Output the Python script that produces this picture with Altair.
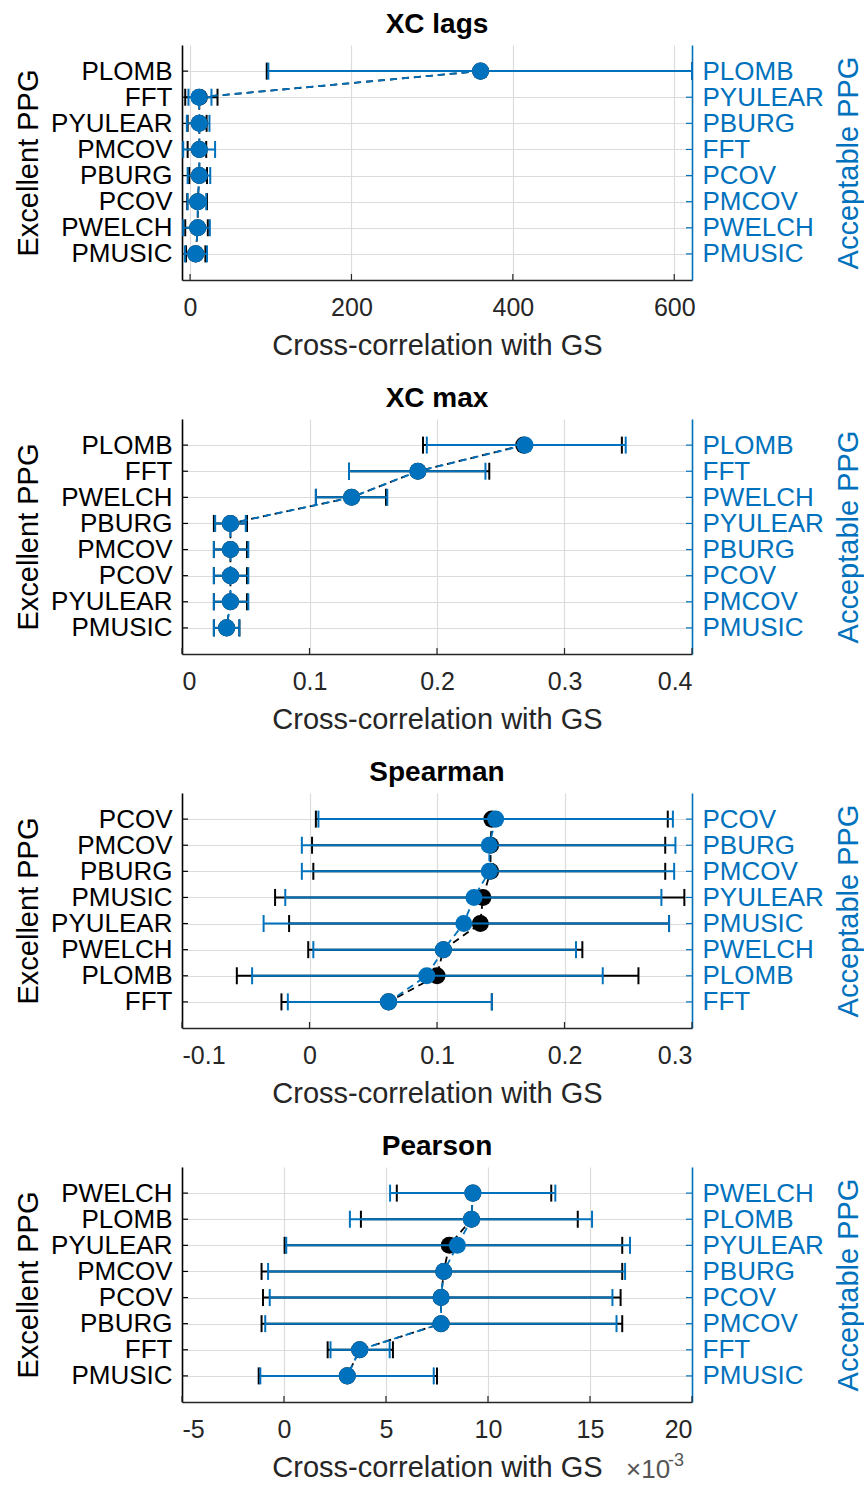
import altair as alt
import pandas as pd

ROWS = [1, 2, 3, 4, 5, 6, 7, 8]
X_TITLE = "Cross-correlation with GS"
LEFT_TITLE = "Excellent PPG"
RIGHT_TITLE = "Acceptable PPG"

# ---------- Panel 1: XC lags ----------
lags_exc_labels = ["PLOMB", "FFT", "PYULEAR", "PMCOV", "PBURG", "PCOV", "PWELCH", "PMUSIC"]
lags_acc_labels = ["PLOMB", "PYULEAR", "PBURG", "FFT", "PCOV", "PMCOV", "PWELCH", "PMUSIC"]
lags_exc_mean = [360, 11.5, 11.5, 11.5, 11.5, 9.5, 9.5, 7]
lags_exc_lo = [95, -6, -3, -3, -1, -3.5, -6, -5]
lags_exc_hi = [622, 34, 20.5, 20, 21, 21, 22, 19]
lags_acc_mean = [360, 11, 11.5, 11.5, 11.5, 9.5, 9.5, 7]
lags_acc_lo = [97, -2, -4, -8.5, -3, -3, -8.5, -6.5]
lags_acc_hi = [622, 26.5, 24, 31, 25, 20, 24.5, 21]
lags_ticks = [0, 200, 400, 600]
lags_domain = [-10, 622]

# ---------- Panel 2: XC max ----------
max_exc_labels = ["PLOMB", "FFT", "PWELCH", "PBURG", "PMCOV", "PCOV", "PYULEAR", "PMUSIC"]
max_acc_labels = ["PLOMB", "FFT", "PWELCH", "PYULEAR", "PBURG", "PCOV", "PMCOV", "PMUSIC"]
max_exc_mean = [0.268, 0.185, 0.133, 0.038, 0.038, 0.038, 0.038, 0.035]
max_exc_lo = [0.189, 0.131, 0.105, 0.025, 0.025, 0.025, 0.025, 0.025]
max_exc_hi = [0.345, 0.241, 0.160, 0.051, 0.051, 0.051, 0.051, 0.045]
max_acc_mean = [0.269, 0.185, 0.133, 0.038, 0.038, 0.038, 0.038, 0.035]
max_acc_lo = [0.192, 0.131, 0.105, 0.026, 0.025, 0.025, 0.025, 0.025]
max_acc_hi = [0.348, 0.238, 0.161, 0.050, 0.052, 0.052, 0.052, 0.045]
max_ticks = [0, 0.1, 0.2, 0.3, 0.4]
max_domain = [0, 0.4]

# ---------- Panel 3: Spearman ----------
sp_exc_labels = ["PCOV", "PMCOV", "PBURG", "PMUSIC", "PYULEAR", "PWELCH", "PLOMB", "FFT"]
sp_acc_labels = ["PCOV", "PBURG", "PMCOV", "PYULEAR", "PMUSIC", "PWELCH", "PLOMB", "FFT"]
sp_exc_mean = [0.143, 0.142, 0.142, 0.136, 0.134, 0.105, 0.100, 0.062]
sp_exc_lo = [0.005, 0.002, 0.003, -0.027, -0.016, -0.001, -0.057, -0.022]
sp_exc_hi = [0.281, 0.279, 0.279, 0.294, 0.282, 0.214, 0.258, 0.143]
sp_acc_mean = [0.146, 0.141, 0.141, 0.129, 0.121, 0.105, 0.092, 0.062]
sp_acc_lo = [0.007, -0.006, -0.006, -0.019, -0.036, 0.003, -0.045, -0.017]
sp_acc_hi = [0.285, 0.287, 0.286, 0.276, 0.282, 0.209, 0.230, 0.143]
sp_ticks = [-0.1, 0, 0.1, 0.2, 0.3]
sp_domain = [-0.1, 0.3]

# ---------- Panel 4: Pearson (x 1e-3) ----------
pe_exc_labels = ["PWELCH", "PLOMB", "PYULEAR", "PMCOV", "PCOV", "PBURG", "FFT", "PMUSIC"]
pe_acc_labels = ["PWELCH", "PLOMB", "PYULEAR", "PBURG", "PCOV", "PMCOV", "FFT", "PMUSIC"]
pe_exc_mean = [9.26, 9.19, 8.1, 7.83, 7.7, 7.7, 3.71, 3.1]
pe_exc_lo = [5.53, 3.77, 0.03, -1.1, -1.03, -1.1, 2.14, -1.24]
pe_exc_hi = [13.1, 14.4, 16.58, 16.58, 16.5, 16.58, 5.34, 7.5]
pe_acc_mean = [9.26, 9.19, 8.5, 7.83, 7.7, 7.7, 3.71, 3.1]
pe_acc_lo = [5.2, 3.23, 0.11, -0.78, -0.7, -0.92, 2.28, -1.16]
pe_acc_hi = [13.3, 15.1, 16.96, 16.72, 16.1, 16.3, 5.18, 7.34]
pe_ticks = [-5, 0, 5, 10, 15, 20]
pe_domain = [-5, 20]
pe_multiplier = ["\u00d710", "-3"]

BLUE = "#0072BD"
DARK = "#262626"
GRID = "#dcdcdc"
FONT = "Liberation Sans"
W, H = 510, 235
DASH = [7, 5]


def lab_expr(labels):
    return "[" + ",".join("'" + s + "'" for s in [""] + labels) + "][datum.value]"


def make_panel(title, exc_labels, acc_labels, em, elo, ehi, am, alo, ahi, xdom, xticks, extra=None):
    df = pd.DataFrame(dict(r=ROWS, em=em, elo=elo, ehi=ehi, am=am, alo=alo, ahi=ahi))
    tdf = pd.DataFrame(dict(v=xticks))
    xs = alt.Scale(domain=xdom, nice=False, zero=False)
    ys = alt.Scale(domain=[0, 9], reverse=True, nice=False, zero=False)

    xaxis = alt.Axis(values=xticks, labelExpr="'' + datum.value", title=X_TITLE, grid=True,
                     gridColor=GRID, gridWidth=1.2, domainColor=DARK, domainWidth=1.6,
                     ticks=False, labelFontSize=25, labelColor=DARK, labelPadding=15,
                     titleFontSize=29, titleFontWeight="normal", titleColor=DARK, titlePadding=11)
    left_axis = alt.Axis(values=ROWS, labelExpr=lab_expr(exc_labels), title=LEFT_TITLE, orient="left",
                         grid=True, gridColor=GRID, gridWidth=1.2, domainColor="#000000", domainWidth=1.6,
                         ticks=False, labelFontSize=26, labelColor="#000000", labelPadding=10,
                         titleFontSize=29, titleFontWeight="normal", titleColor="#000000", titlePadding=7)
    right_axis = alt.Axis(values=ROWS, labelExpr=lab_expr(acc_labels), title=RIGHT_TITLE, orient="right",
                          grid=False, domainColor=BLUE, domainWidth=1.6,
                          ticks=False, labelFontSize=26, labelColor=BLUE, labelPadding=10,
                          titleFontSize=29, titleFontWeight="normal", titleColor=BLUE, titlePadding=11,
                          titleAngle=270, titleBaseline="top")

    base = alt.Chart(df)

    def X(f):
        return alt.X(f, scale=xs, axis=xaxis)

    yL = alt.Y("r:Q", scale=ys, axis=left_axis)
    yR = alt.Y("r:Q", scale=ys, axis=right_axis)

    # ----- Excellent PPG (black) -----
    k_rule = base.mark_rule(color="#000000", strokeWidth=2).encode(x=X("elo:Q"), x2="ehi:Q", y=yL)
    k_cap_lo = base.mark_tick(orient="vertical", color="#000000", size=17, thickness=2, opacity=1).encode(
        x=X("elo:Q"), y=yL)
    k_cap_hi = base.mark_tick(orient="vertical", color="#000000", size=17, thickness=2, opacity=1).encode(
        x=X("ehi:Q"), y=yL)
    k_line = base.mark_line(color="#000000", strokeWidth=1.8, strokeDash=DASH).encode(
        x=X("em:Q"), y=yL, order=alt.Order("r:Q"))
    k_pts = base.mark_circle(color="#000000", size=290, opacity=1).encode(x=X("em:Q"), y=yL)
    k_ticks = base.mark_rule(color="#000000", strokeWidth=1.2).encode(
        x=alt.value(0), x2=alt.value(6), y=yL)
    b_ticks = alt.Chart(tdf).mark_rule(color=DARK, strokeWidth=1.2).encode(
        x=X("v:Q"), y=alt.value(H), y2=alt.value(H - 6))
    left = alt.layer(k_rule, k_cap_lo, k_cap_hi, k_line, k_pts, k_ticks, b_ticks)

    # ----- Acceptable PPG (blue) -----
    a_rule = base.mark_rule(color=BLUE, strokeWidth=2).encode(x=X("alo:Q"), x2="ahi:Q", y=yR)
    a_cap_lo = base.mark_tick(orient="vertical", color=BLUE, size=17, thickness=2, opacity=1).encode(
        x=X("alo:Q"), y=yR)
    a_cap_hi = base.mark_tick(orient="vertical", color=BLUE, size=17, thickness=2, opacity=1).encode(
        x=X("ahi:Q"), y=yR)
    a_line = base.mark_line(color=BLUE, strokeWidth=1.8, strokeDash=DASH).encode(
        x=X("am:Q"), y=yR, order=alt.Order("r:Q"))
    a_pts = base.mark_circle(color=BLUE, size=290, opacity=1).encode(x=X("am:Q"), y=yR)
    a_ticks = base.mark_rule(color=BLUE, strokeWidth=1.2).encode(
        x=alt.value(W - 6), x2=alt.value(W), y=yR)
    right = alt.layer(a_rule, a_cap_lo, a_cap_hi, a_line, a_pts, a_ticks)

    layers = [left, right] + (extra or [])
    return alt.layer(*layers).resolve_scale(y="independent").properties(
        width=W, height=H,
        title=alt.TitleParams(text=title, fontSize=28, fontWeight="bold", color="#000000",
                              offset=6, anchor="middle"))


mult_df = pd.DataFrame(dict(t=[pe_multiplier[0]]))
exp_df = pd.DataFrame(dict(t=[pe_multiplier[1]]))
mult_text = alt.Chart(mult_df).mark_text(align="left", baseline="alphabetic", fontSize=26,
                                         color="#555555").encode(
    text="t:N", x=alt.value(444), y=alt.value(311))
exp_text = alt.Chart(exp_df).mark_text(align="left", baseline="alphabetic", fontSize=18,
                                       color="#555555").encode(
    text="t:N", x=alt.value(486), y=alt.value(299))

p1 = make_panel("XC lags", lags_exc_labels, lags_acc_labels, lags_exc_mean, lags_exc_lo, lags_exc_hi,
                lags_acc_mean, lags_acc_lo, lags_acc_hi, lags_domain, lags_ticks)
p2 = make_panel("XC max", max_exc_labels, max_acc_labels, max_exc_mean, max_exc_lo, max_exc_hi,
                max_acc_mean, max_acc_lo, max_acc_hi, max_domain, max_ticks)
p3 = make_panel("Spearman", sp_exc_labels, sp_acc_labels, sp_exc_mean, sp_exc_lo, sp_exc_hi,
                sp_acc_mean, sp_acc_lo, sp_acc_hi, sp_domain, sp_ticks)
p4 = make_panel("Pearson", pe_exc_labels, pe_acc_labels, pe_exc_mean, pe_exc_lo, pe_exc_hi,
                pe_acc_mean, pe_acc_lo, pe_acc_hi, pe_domain, pe_ticks, extra=[mult_text, exp_text])

chart = alt.vconcat(p1, p2, p3, p4, spacing=139, bounds="flush").properties(
    padding={"left": 14, "top": 11, "right": 0, "bottom": 3}
).configure(font=FONT).configure_view(stroke=None)

chart.save("out.html", embed_options={"renderer": "svg", "actions": False})
